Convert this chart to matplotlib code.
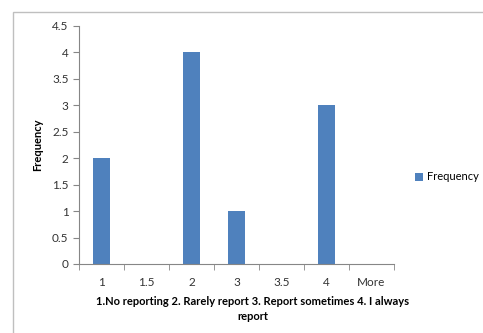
import matplotlib.pyplot as plt
from matplotlib.patches import Rectangle
import numpy as np

plt.rcParams['font.family'] = ['Lato', 'DejaVu Sans']

bins = ["1", "1.5", "2", "3", "3.5", "4", "More"]
frequency = [2, 0, 4, 1, 0, 3, 0]

bar_color = "#4F81BD"
axis_color = "#868686"
text_color = "#333333"

fig = plt.figure(figsize=(4.83, 3.33), dpi=100)
W, H = 483, 333

# outer chart frame
fig.patches.append(Rectangle((13 / W, -0.1), 1.2, 1 - 12 / H + 0.1,
                             transform=fig.transFigure, fill=False,
                             edgecolor="#BFBFBF", linewidth=1.0))

ax = fig.add_axes([79 / W, 1 - 264 / H, (394 - 79) / W, (264 - 26) / H])

x = np.arange(len(bins))
ax.bar(x, frequency, width=0.38, color=bar_color, label="Frequency")

ax.set_xlim(-0.5, len(bins) - 0.5)
ax.set_ylim(0, 4.5)
ax.set_yticks(np.arange(0, 4.51, 0.5))
ax.set_yticklabels(["0", "0.5", "1", "1.5", "2", "2.5", "3", "3.5", "4", "4.5"])
ax.set_xticks(x)
ax.set_xticklabels(bins)
ax.set_xticks(np.arange(-0.5, len(bins), 1), minor=True)

ax.tick_params(axis="x", which="major", length=0, pad=9, labelsize=8.5, colors=text_color)
ax.tick_params(axis="x", which="minor", length=4, color=axis_color)
ax.tick_params(axis="y", length=4, color=axis_color, labelsize=8.5, colors=text_color)

for side in ["top", "right"]:
    ax.spines[side].set_visible(False)
for side in ["left", "bottom"]:
    ax.spines[side].set_color(axis_color)
    ax.spines[side].set_linewidth(0.8)

# axis titles
fig.text(38 / W, 1 - 145 / H, "Frequency", rotation=90, ha="center", va="center",
         fontsize=8, fontweight="bold", color="black")
fig.text(253 / W, 1 - 309 / H,
         "1.No reporting 2. Rarely report 3. Report sometimes 4. I always\nreport",
         ha="center", va="center", fontsize=8, fontweight="bold",
         linespacing=1.45, color="black")

ax.legend(loc="center left", bbox_to_anchor=(415 / W, 1 - 177 / H),
          bbox_transform=fig.transFigure, frameon=False, borderpad=0,
          borderaxespad=0, fontsize=8, handlelength=0.7, handleheight=0.7,
          handletextpad=0.4)

fig.savefig("out.png", dpi=100)
